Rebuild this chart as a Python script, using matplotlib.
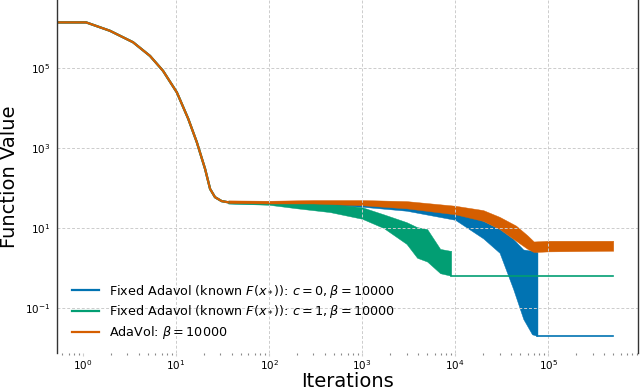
import numpy as np
import matplotlib
matplotlib.use('Agg')
import matplotlib.pyplot as plt

# shared initial descent (iterations, function value), same for all runs
descent_x = [0, 1, 1.08, 1.95, 3.45, 5.25, 7.24, 10.2, 13.5, 16.7, 20.5, 23.2, 26.2, 30.9, 36.3]
descent_y = [1.38e6, 1.38e6, 1.38e6, 8.5e5, 4.4e5, 2.0e5, 8.5e4, 2.45e4, 5.4e3, 1.4e3, 300, 95, 59, 47, 44]

# noisy band envelopes after the descent
blue_x = [36.3, 100, 300, 1000, 3000, 1e4, 2e4, 3e4, 4.2e4, 5.4e4, 6.7e4, 7.67e4]
blue_hi = [47, 46, 47, 45, 40, 26, 15, 9.4, 5.3, 2.9, 2.7, 2.5]
blue_lo = [41, 40, 39, 34, 27, 16, 5.5, 2.4, 0.3, 0.053, 0.022, 0.02]
blue_final = 0.0204

green_x = [36.3, 100, 200, 450, 1000, 1700, 3000, 3900, 5000, 6900, 8800, 9060]
green_hi = [47, 45, 42, 40, 33, 22, 14, 10.5, 9.4, 3.0, 2.7, 2.7]
green_lo = [41, 38, 31, 25, 17, 10, 4.0, 1.8, 1.45, 0.74, 0.65, 0.65]
green_final = 0.645

orange_x = [36.3, 100, 300, 1000, 3000, 1e4, 2e4, 3e4, 4.5e4, 6e4, 7e4, 1e5, 5e5]
orange_hi = [49, 48, 50, 50, 47, 36, 28, 19, 11.5, 6.5, 4.6, 4.8, 4.8]
orange_lo = [42, 41, 41, 37, 31, 22, 15, 9.4, 4.8, 3.0, 2.5, 2.6, 2.7]

last_iter = 5e5

labels = [r'Fixed Adavol (known $F(x_*)$): $c=0, \beta=10000$',
          r'Fixed Adavol (known $F(x_*)$): $c=1, \beta=10000$',
          r'AdaVol: $\beta=10000$']
colors = ['#0173b2', '#029e73', '#d55e00']

fig = plt.figure(figsize=(6.4, 3.91), dpi=100)
ax = fig.add_axes([57/640, 38/391, 580.5/640, 353/391])
ax.set_xscale('log')
ax.set_yscale('log')

# blue
ax.plot(descent_x, descent_y, color=colors[0], lw=1.6, label=labels[0])
ax.fill_between(blue_x, blue_lo, blue_hi, color=colors[0], lw=0.3)
ax.plot([blue_x[-1], blue_x[-1], last_iter], [blue_lo[-1], blue_final, blue_final],
        color=colors[0], lw=1.2)

# green
ax.plot(descent_x, descent_y, color=colors[1], lw=1.6, label=labels[1])
ax.fill_between(green_x, green_lo, green_hi, color=colors[1], lw=0.3)
ax.plot([green_x[-1], last_iter], [green_final, green_final], color=colors[1], lw=1.2)

# orange
ax.plot(descent_x, descent_y, color=colors[2], lw=1.6, label=labels[2])
ax.fill_between(orange_x, orange_lo, orange_hi, color=colors[2], lw=0.3)

ax.set_xlim(10**-0.28, 10**5.96)
ax.set_ylim(10**-2.125, 10**6.7)

ax.set_xticks([1, 10, 1e2, 1e3, 1e4, 1e5])
ax.set_yticks([1e-1, 1e1, 1e3, 1e5])
ax.yaxis.set_minor_locator(matplotlib.ticker.NullLocator())
ax.tick_params(axis='x', which='major', length=2, pad=2, color='#cccccc', labelsize=7.5)
ax.tick_params(axis='x', which='minor', length=1.5, width=0.8, color='#888888')
ax.tick_params(axis='y', which='major', length=0, pad=5, labelsize=7.5)

ax.grid(True, which='major', color='#cccccc', linestyle=(0, (3, 2)), linewidth=0.7)
for gl, t in zip(ax.get_xgridlines(), ax.get_xticks()):
    if t == 1:
        gl.set_visible(False)

for s in ['top', 'bottom']:
    ax.spines[s].set_visible(False)
for s in ['left', 'right']:
    ax.spines[s].set_color('#333333')
    ax.spines[s].set_linewidth(1.0)

ax.set_xlabel('Iterations', fontsize=14)
ax.set_ylabel('Function Value', fontsize=14)
ax.xaxis.set_label_coords(0.5, -0.055)
ax.yaxis.set_label_coords(-0.065, 0.5)

ax.legend(loc='lower left', bbox_to_anchor=(0.015, 0.015), frameon=False,
          fontsize=9.2, handlelength=2.1, handletextpad=0.8, borderpad=0,
          labelspacing=0.3)

plt.savefig('out.png', dpi=100)
plt.close(fig)
